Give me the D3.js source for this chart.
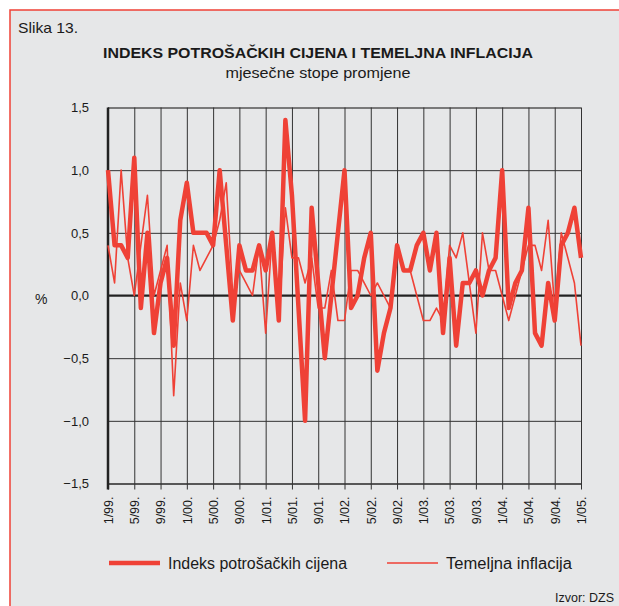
<!DOCTYPE html>
<html>
<head>
<meta charset="utf-8">
<script src="https://cdn.jsdelivr.net/npm/d3@7"></script>
<style>
  body { margin: 0; background: #fff; }
  svg text { font-family: "Liberation Sans", Arial, sans-serif; fill: #1a1a1a; }
</style>
</head>
<body>
<script>
'use strict';

// monthly rates, 1/99 .. 1/05
const cpi = [1.0, 0.4, 0.4, 0.3, 1.1, -0.1, 0.5, -0.3, 0.1, 0.3, -0.4, 0.6,
  0.9, 0.5, 0.5, 0.5, 0.4, 1.0, 0.4, -0.2, 0.4, 0.2, 0.2, 0.4,
  0.2, 0.5, -0.2, 1.4, 0.8, -0.1, -1.0, 0.7, 0.1, -0.5, 0.0, 0.5,
  1.0, -0.1, 0.0, 0.3, 0.5, -0.6, -0.3, -0.1, 0.4, 0.2, 0.2, 0.4,
  0.5, 0.2, 0.5, -0.3, 0.3, -0.4, 0.1, 0.1, 0.2, 0.0, 0.2, 0.3,
  1.0, -0.1, 0.1, 0.2, 0.7, -0.3, -0.4, 0.1, -0.2, 0.4, 0.5, 0.7,
  0.3];
const core = [0.4, 0.1, 1.0, 0.3, 0.0, 0.4, 0.8, 0.0, 0.2, 0.4, -0.8, 0.1,
  -0.2, 0.4, 0.2, 0.3, 0.4, 0.6, 0.9, 0.0, 0.2, 0.1, 0.0, 0.4,
  -0.3, 0.5, -0.2, 0.7, 0.3, 0.3, 0.1, 0.3, -0.1, -0.1, 0.2, -0.2,
  -0.2, 0.2, 0.2, 0.1, 0.0, 0.1, 0.0, -0.1, 0.4, 0.2, 0.2, 0.0,
  -0.2, -0.2, -0.1, -0.2, 0.4, 0.3, 0.5, 0.1, -0.3, 0.5, 0.2, 0.2,
  0.0, -0.2, 0.0, 0.2, 0.4, 0.4, 0.2, 0.6, -0.1, 0.5, 0.3, 0.1,
  -0.4];
const tickLabels = ["1/99.", "5/99.", "9/99.", "1/00.", "5/00.", "9/00.", "1/01.",
  "5/01.", "9/01.", "1/02.", "5/02.", "9/02.", "1/03.", "5/03.", "9/03.",
  "1/04.", "5/04.", "9/04.", "1/05."];
const yTicks = [-1.5, -1.0, -0.5, 0, 0.5, 1.0, 1.5];
const seriesNames = ["Indeks potrošačkih cijena", "Temeljna inflacija"];

const red = "#ef4136";

let svg = d3.select('body').append('svg')
  .attr('width', 619)
  .attr('height', 606);

// panel background and frame
svg.append('rect')
  .attr('x', 10).attr('y', 10)
  .attr('width', 620).attr('height', 610)
  .attr('fill', '#e6e7e8')
  .attr('stroke', red)
  .attr('stroke-width', 1.5);

svg.append('text')
  .attr('x', 18).attr('y', 33)
  .style('font-size', '15px')
  .attr('textLength', 60)
  .attr('lengthAdjust', 'spacingAndGlyphs')
  .text('Slika 13.');

svg.append('text')
  .attr('x', 318).attr('y', 58)
  .attr('text-anchor', 'middle')
  .style('font-size', '15.5px')
  .style('font-weight', 'bold')
  .attr('textLength', 430)
  .attr('lengthAdjust', 'spacingAndGlyphs')
  .text('INDEKS POTROŠAČKIH CIJENA I TEMELJNA INFLACIJA');

svg.append('text')
  .attr('x', 318).attr('y', 78)
  .attr('text-anchor', 'middle')
  .style('font-size', '15.5px')
  .attr('textLength', 185)
  .attr('lengthAdjust', 'spacingAndGlyphs')
  .text('mjesečne stope promjene');

// scales
let x = d3.scaleLinear().domain([0, cpi.length - 1]).range([108, 581]);
let y = d3.scaleLinear().domain([-1.5, 1.5]).range([483.5, 107.5]);

// horizontal grid + y labels
let yAxis = d3.axisLeft(y)
  .tickValues(yTicks)
  .tickSize(-(581 - 108))
  .tickPadding(19)
  .tickFormat(d => d3.format('.1f')(d).replace('.', ',').replace('-', '–'));

let gy = svg.append('g')
  .attr('transform', 'translate(108,0)')
  .call(yAxis);
gy.select('.domain').remove();
gy.selectAll('line')
  .attr('stroke', '#333')
  .attr('stroke-width', 1);
gy.selectAll('line').filter(d => d === 1.5).attr('stroke', '#555').attr('stroke-width', 1.5);
gy.selectAll('text')
  .style('font-size', '13px')
  .attr('fill', '#1a1a1a');

// vertical grid + bottom ticks
let tickIdx = tickLabels.map((t, i) => i * 4);
let xAxis = d3.axisBottom(x)
  .tickValues(tickIdx)
  .tickSizeInner(-(483.5 - 107.5))
  .tickSizeOuter(0)
  .tickFormat(d => tickLabels[d / 4]);

let gx = svg.append('g')
  .attr('transform', 'translate(0,483.5)')
  .call(xAxis);
gx.select('.domain').attr('stroke', '#222').attr('stroke-width', 1.2);
gx.selectAll('line')
  .attr('stroke', '#333')
  .attr('stroke-width', 1)
  .attr('y2', 6)
  .attr('y1', -(483.5 - 107.5));
gx.selectAll('text')
  .style('font-size', '12.5px')
  .attr('fill', '#1a1a1a')
  .attr('text-anchor', 'end')
  .attr('transform', 'rotate(-90)')
  .attr('x', -13)
  .attr('y', 0)
  .attr('dy', '0.35em');

// left axis and zero line
svg.append('line')
  .attr('x1', 108).attr('x2', 108)
  .attr('y1', y(1.5)).attr('y2', y(-1.5) + 6)
  .attr('stroke', '#222').attr('stroke-width', 2.5);
svg.append('line')
  .attr('x1', 108).attr('x2', 581)
  .attr('y1', y(0)).attr('y2', y(0))
  .attr('stroke', '#222').attr('stroke-width', 2.2);

svg.append('text')
  .attr('x', 35).attr('y', 304)
  .style('font-size', '14px')
  .text('%');

// series
let line = d3.line()
  .x((d, i) => x(i))
  .y(d => y(d));

svg.append('path')
  .datum(core)
  .attr('fill', 'none')
  .attr('stroke', red)
  .attr('stroke-width', 1.6)
  .attr('stroke-linejoin', 'round')
  .attr('d', line);

svg.append('path')
  .datum(cpi)
  .attr('fill', 'none')
  .attr('stroke', red)
  .attr('stroke-width', 4.5)
  .attr('stroke-linejoin', 'round')
  .attr('d', line);

// legend
let legend = [
  {name: seriesNames[0], x: 109, w: 4.5, len: 179},
  {name: seriesNames[1], x: 387, w: 1.6, len: 126}
];
legend.forEach(l => {
  svg.append('line')
    .attr('x1', l.x).attr('x2', l.x + 51)
    .attr('y1', 563).attr('y2', 563)
    .attr('stroke', red)
    .attr('stroke-width', l.w);
  svg.append('text')
    .attr('x', l.x + 59).attr('y', 569)
    .style('font-size', '16px')
    .attr('textLength', l.len)
    .attr('lengthAdjust', 'spacingAndGlyphs')
    .text(l.name);
});

svg.append('text')
  .attr('x', 614).attr('y', 602)
  .attr('text-anchor', 'end')
  .style('font-size', '12.5px')
  .text('Izvor: DZS');
</script>
</body>
</html>
